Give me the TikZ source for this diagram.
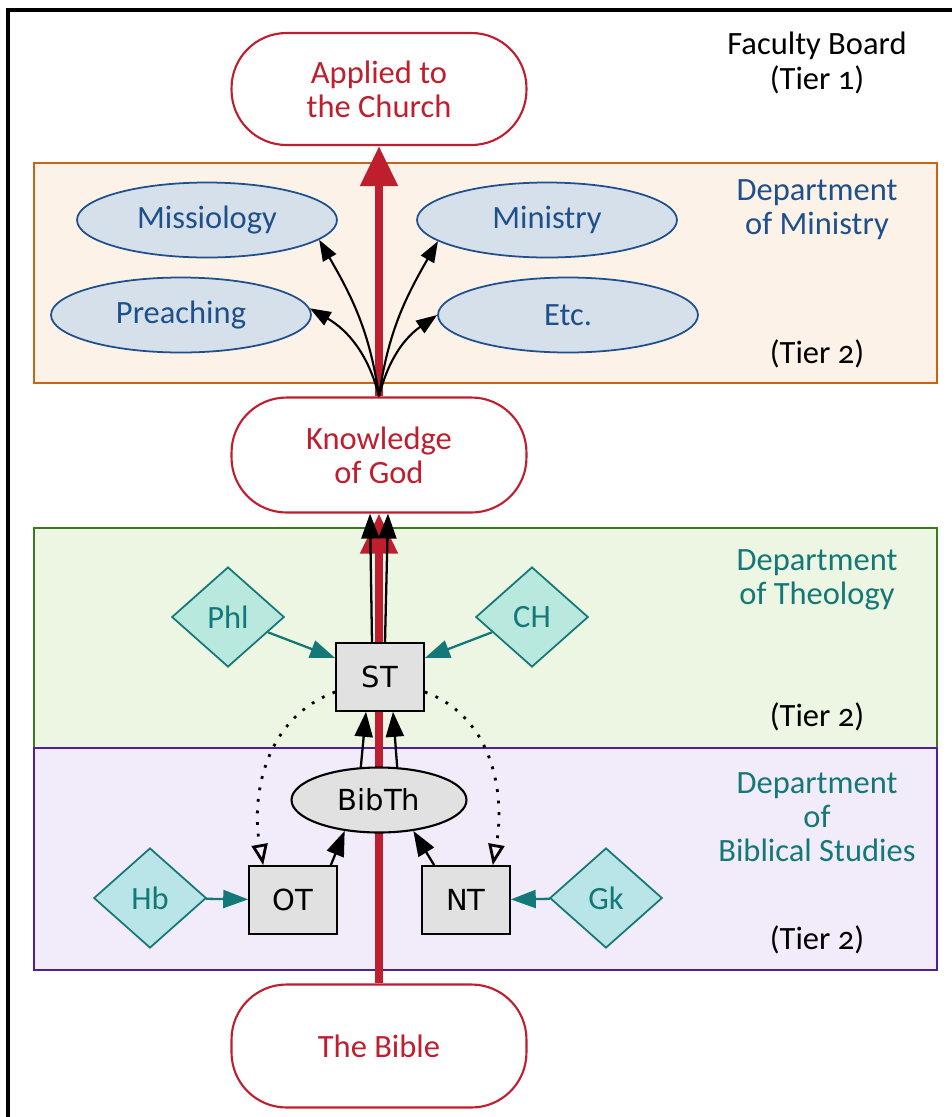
\documentclass[tikz,border=0pt]{standalone}
\usepackage{fontspec}
\setmainfont{Carlito}[Numbers=OldStyle]
\newfontfamily\gvfont{DejaVu Sans}
\usepackage{tikz}
\usetikzlibrary{shapes.geometric, arrows.meta, positioning, backgrounds}
\definecolor{bsRed}{RGB}{190, 30, 45}
\definecolor{bsOrange}{RGB}{200, 100, 20}
\definecolor{bsOrangeFill}{RGB}{253, 242, 232}
\definecolor{bsBlue}{RGB}{30, 80, 140}
\definecolor{bsBlueFill}{RGB}{214, 224, 234}
\definecolor{bsGreen}{RGB}{60, 120, 30}
\definecolor{bsGreenFill}{RGB}{236, 246, 226}
\definecolor{bsPurple}{RGB}{80, 30, 150}
\definecolor{bsPurpleFill}{RGB}{241, 235, 250}
\definecolor{bsTeal}{RGB}{20, 120, 120}
\definecolor{bsMint}{RGB}{185, 232, 222}
\definecolor{bsAqua}{RGB}{185, 228, 232}
\definecolor{bsGray}{RGB}{225, 225, 225}
\newcommand{\mainsize}{\fontsize{18.5}{19.5}\selectfont}
\newcommand{\gvsize}{\fontsize{16.5}{18}\selectfont}
\tikzset{
  pill/.style={rectangle, rounded corners=1.1cm, draw=bsRed, line width=1.2pt, fill=white, text=bsRed, minimum width=5.9cm, align=center, font=\mainsize},
  dept/.style={draw=#1, line width=1.2pt},
  deptlabel/.style={align=center, font=\mainsize, text=#1},
  topic/.style={ellipse, draw=bsBlue, line width=1pt, fill=bsBlueFill, minimum width=5.2cm, minimum height=1.5cm, text=bsBlue, font=\mainsize},
  lang/.style={diamond, draw=bsTeal, line width=1pt, fill=#1, minimum width=2.25cm, minimum height=2cm, inner sep=0pt, text=bsTeal, font=\mainsize},
  lang/.default=bsMint,
  gvbox/.style={rectangle, draw, line width=1.2pt, fill=bsGray, minimum width=1.75cm, minimum height=1.35cm, font=\gvfont\gvsize},
  gvoval/.style={ellipse, draw, line width=1.2pt, fill=bsGray, minimum width=3.5cm, minimum height=1.3cm, font=\gvfont\gvsize},
  mainarrow/.style={-{Triangle[length=0.8cm, width=0.72cm]}, line width=0.16cm, bsRed},
  gvarrow/.style={-{Triangle[length=0.5cm, width=0.36cm]}, line width=1.3pt, #1},
  gvarrow/.default=black,
  fanarrow/.style={-{Triangle[length=0.42cm, width=0.3cm]}, line width=1.2pt},
  hintarrow/.style={-{Triangle[open, length=0.42cm, width=0.32cm]}, line width=1.6pt, dash pattern=on 1.6pt off 5pt},
}

\begin{document}
\begin{tikzpicture}[x=0.02cm, y=0.02cm]
  \useasboundingbox (0,0) rectangle (952,-1117);
  \draw[line width=2pt] (8,-1117) -- (8,-10) -- (952,-10);

  \node[deptlabel=black] (faculty) at (817,-63) {Faculty Board\\(Tier 1)};
  \node[deptlabel=bsBlue] (ministrylabel) at (817,-210) {Department\\of Ministry};
  \node[deptlabel=black] (ministrytier) at (817,-354) {(Tier 2)};
  \node[deptlabel=bsTeal] (theologylabel) at (817,-580) {Department\\of Theology};
  \node[deptlabel=black] (theologytier) at (817,-717) {(Tier 2)};
  \node[deptlabel=bsTeal] (biblicallabel) at (817,-817) {Department\\of\\Biblical Studies};
  \node[deptlabel=black] (biblicaltier) at (817,-940) {(Tier 2)};

  % main line
  \node[pill, minimum height=2.24cm] (applied) at (379,-89) {Applied to\\the Church};
  \node[pill, minimum height=2.3cm] (knowledge) at (379,-455) {Knowledge\\of God};
  \node[pill, minimum height=2.46cm] (bible) at (379,-1046) {The Bible};

  % ministry
  \node[topic] (missiology) at (207,-220) {Missiology};
  \node[topic] (ministry) at (547,-220) {Ministry};
  \node[topic] (preaching) at (181,-315) {Preaching};
  \node[topic] (etc) at (568,-315) {Etc.};

  % theology and biblical studies
  \node[lang] (phl) at (228,-617) {Phl};
  \node[lang] (ch) at (532,-617) {CH};
  \node[gvbox] (st) at (380,-677) {ST};
  \node[gvoval] (bibth) at (379,-800) {BibTh};
  \node[lang=bsAqua] (hb) at (150,-898) {Hb};
  \node[gvbox] (ot) at (293,-900) {OT};
  \node[gvbox] (nt) at (466,-900) {NT};
  \node[lang=bsAqua] (gk) at (606,-898) {Gk};

  \begin{pgfonlayer}{background}
    % departments
    \filldraw[dept=bsOrange, fill=bsOrangeFill] (34,-163) rectangle (937,-383);
    \filldraw[dept=bsGreen, fill=bsGreenFill] (34,-528) rectangle (937,-748);
    \filldraw[dept=bsPurple, fill=bsPurpleFill] (34,-748) rectangle (937,-970);
    \draw[mainarrow] (bible) -- (knowledge);
    \draw[mainarrow] (knowledge) -- (applied);
  \end{pgfonlayer}

  \draw[fanarrow] (knowledge.north) to[out=98, in=-60] (missiology.-10);
  \draw[fanarrow] (knowledge.north) to[out=104, in=-30] (preaching.3);
  \draw[fanarrow] (knowledge.north) to[out=82, in=-120] (ministry.191);
  \draw[fanarrow] (knowledge.north) to[out=76, in=-145] (etc.west);

  \draw[gvarrow] ([xshift=-0.16cm]st.north) -- ([xshift=-0.18cm]knowledge.south);
  \draw[gvarrow] ([xshift=0.1cm]st.north) -- ([xshift=0.18cm]knowledge.south);
  \draw[gvarrow] (bibth.119) -- ([xshift=-0.28cm]st.south);
  \draw[gvarrow] (bibth.61) -- ([xshift=0.26cm]st.south);
  \draw[gvarrow] ([xshift=-0.14cm]ot.north east) -- (bibth.222);
  \draw[gvarrow] ([xshift=0.26cm]nt.north west) -- (bibth.318);

  \draw[hintarrow] ([yshift=-0.3cm]st.west) to[out=200, in=100] ([xshift=0.3cm]ot.north west);
  \draw[hintarrow] ([yshift=-0.3cm]st.east) to[out=-20, in=80] ([xshift=-0.36cm]nt.north east);

  \draw[gvarrow=bsTeal] (phl) -- ([yshift=0.38cm]st.west);
  \draw[gvarrow=bsTeal] (ch) -- ([yshift=0.38cm]st.east);
  \draw[gvarrow=bsTeal] (hb) -- (ot);
  \draw[gvarrow=bsTeal] (gk) -- (nt);
\end{tikzpicture}
\end{document}
